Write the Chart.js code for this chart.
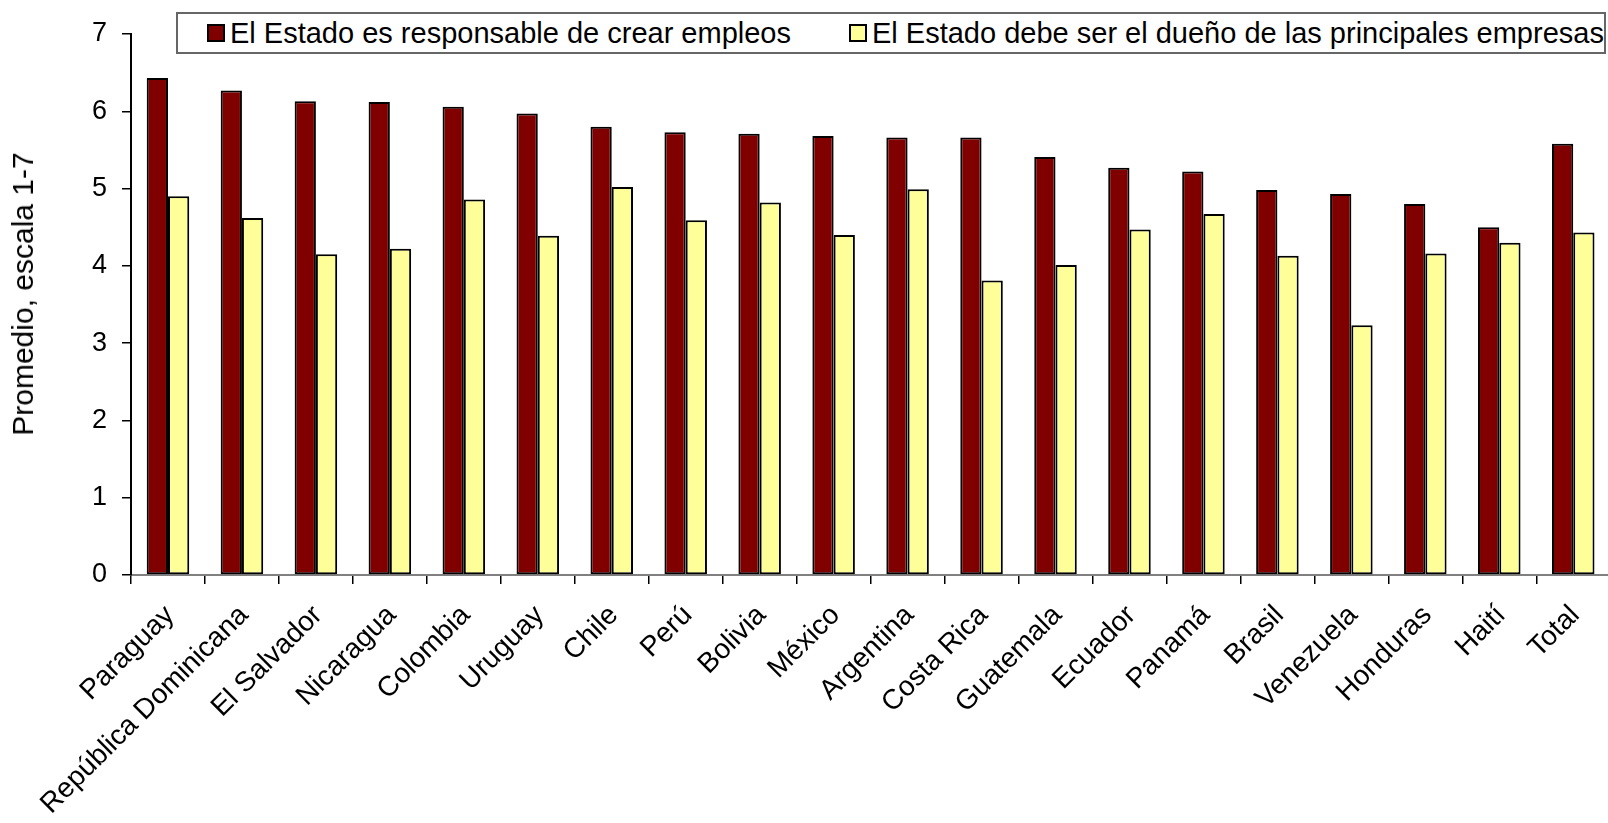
<!DOCTYPE html>
<html>
<head>
<meta charset="utf-8">
<script src="https://cdn.jsdelivr.net/npm/chart.js@4.4.1/dist/chart.umd.min.js"></script>
<style>
  html, body { margin: 0; padding: 0; background: #fff; overflow: hidden; }
  #wrap { position: relative; width: 1608px; height: 823px; overflow: hidden; }
  #chart { position: absolute; left: 0; top: 0; }
  #legend {
    position: absolute; left: 176px; top: 12px; width: 1426px; height: 38px;
    border: 2px solid #666; background: #fff; box-sizing: content-box;
    font-family: "Liberation Sans", Arial, sans-serif; font-size: 29px; color: #000;
    white-space: nowrap;
  }
  #legend .item { display: flex; align-items: center; position: absolute; top: 0; height: 38px; }
  #legend .swatch { width: 14px; height: 14px; border: 2px solid #000; margin-right: 5px; }
  #ytitle {
    position: absolute; left: 23px; top: 294px; transform: translate(-50%, -50%) rotate(-90deg);
    font-family: "Liberation Sans", Arial, sans-serif; font-size: 30px; color: #000;
    white-space: nowrap;
  }
</style>
</head>
<body>
<div id="wrap">
  <!-- canvas a few px wider than the page: the plot runs right up to the edge -->
  <canvas id="chart" width="1612" height="823"></canvas>
  <div id="legend"></div>
  <div id="ytitle"></div>
</div>
<script>
const countries = [
  "Paraguay", "República Dominicana", "El Salvador", "Nicaragua", "Colombia",
  "Uruguay", "Chile", "Perú", "Bolivia", "México", "Argentina", "Costa Rica",
  "Guatemala", "Ecuador", "Panamá", "Brasil", "Venezuela", "Honduras", "Haití", "Total",
];
const crearEmpleos = [
  6.43, 6.27, 6.13, 6.12, 6.06, 5.97, 5.80, 5.73, 5.71, 5.68,
  5.66, 5.66, 5.41, 5.27, 5.22, 4.98, 4.93, 4.80, 4.50, 5.58,
];
const duenoEmpresas = [
  4.90, 4.62, 4.15, 4.22, 4.86, 4.39, 5.02, 4.59, 4.82, 4.40,
  4.99, 3.81, 4.01, 4.47, 4.67, 4.13, 3.23, 4.16, 4.30, 4.43,
];
const seriesNames = [
  "El Estado es responsable de crear empleos",
  "El Estado debe ser el dueño de las principales empresas",
];
const yTicks = [0, 1, 2, 3, 4, 5, 6, 7];
const yTitle = "Promedio, escala 1-7";

const FONT = "'Liberation Sans', Arial, sans-serif";
const legendLeft = [29, 671]; // item offsets inside the legend box

document.getElementById("ytitle").textContent = yTitle;

// legend as html, built from the datasets
const htmlLegend = {
  id: "htmlLegend",
  afterUpdate(chart) {
    const box = document.getElementById("legend");
    box.innerHTML = chart.data.datasets
      .map(
        (ds, i) => `
      <div class="item" style="left:${legendLeft[i]}px">
        <span class="swatch" style="background:${ds.backgroundColor}"></span>${ds.label}
      </div>`,
      )
      .join("");
  },
};

new Chart(document.getElementById("chart"), {
  type: "bar",
  data: {
    labels: countries,
    datasets: [
      {
        label: seriesNames[0],
        data: crearEmpleos,
        backgroundColor: "#800000",
        borderColor: "#000",
        borderWidth: 2,
        borderSkipped: false,
      },
      {
        label: seriesNames[1],
        data: duenoEmpresas,
        backgroundColor: "#ffff99",
        borderColor: "#000",
        borderWidth: 2,
        borderSkipped: false,
      },
    ],
  },
  options: {
    responsive: false,
    animation: false,
    events: [],
    categoryPercentage: 0.575,
    barPercentage: 1,
    layout: { padding: { top: 34, right: 0, left: 0, bottom: 0 } },
    plugins: { legend: { display: false }, tooltip: { enabled: false } },
    scales: {
      x: {
        grid: {
          offset: true,
          drawOnChartArea: false,
          tickLength: 9,
          tickColor: "#000",
          lineWidth: 1.5,
        },
        border: { color: "#808080", width: 2 },
        ticks: {
          autoSkip: false,
          maxRotation: 45,
          minRotation: 45,
          padding: 15,
          labelOffset: 2,
          color: "#000",
          font: { family: FONT, size: 28 },
        },
        afterFit(scale) {
          scale.height = 823 - 575;
        },
      },
      y: {
        min: 0,
        max: 7,
        afterBuildTicks(scale) {
          scale.ticks = yTicks.map((v) => ({ value: v }));
        },
        grid: {
          drawOnChartArea: false,
          tickLength: 9,
          tickColor: "#000",
          lineWidth: 1.5,
        },
        border: { color: "#000", width: 2 },
        ticks: {
          padding: 15,
          color: "#000",
          font: { family: FONT, size: 27 },
        },
        afterFit(scale) {
          scale.width = 131;
        },
      },
    },
  },
  plugins: [htmlLegend],
});
</script>
</body>
</html>
